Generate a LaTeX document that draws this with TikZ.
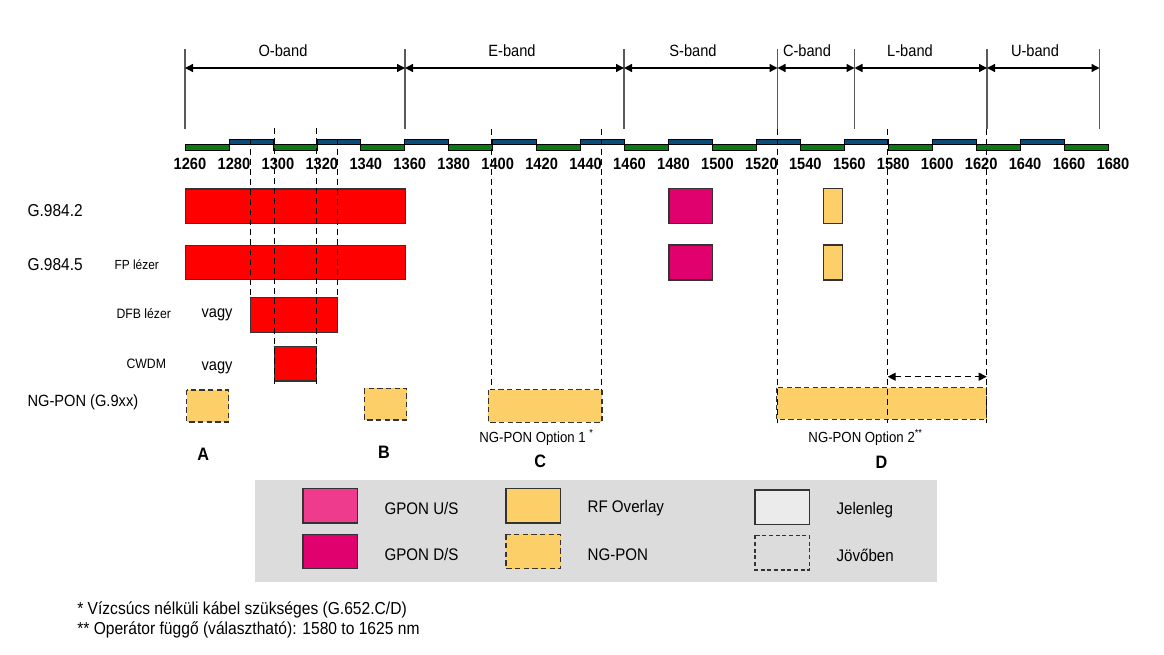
\documentclass[tikz,border=0pt]{standalone}
\usepackage{fontspec}
\setmainfont{Liberation Sans}[FakeStretch=0.9]
\usetikzlibrary{arrows.meta}
\definecolor{cred}{HTML}{FF0000}
\definecolor{cmag}{HTML}{E0006E}
\definecolor{cpink}{HTML}{EF3B8E}
\definecolor{corange}{HTML}{FCCF68}
\definecolor{cgreen}{HTML}{0B7A12}
\definecolor{cblue}{HTML}{0C4C78}
\definecolor{cpanel}{HTML}{DCDCDC}
\definecolor{cgrey}{HTML}{5A5A5A}
\tikzset{
  every picture/.style={x=0.75pt, y=-0.75pt, line width=0.9pt},
  now/.style={draw=black!80, fill=#1, line width=0.8pt},
  later/.style={draw=black!80, fill=#1, line width=0.9pt, dash pattern=on 4pt off 2.5pt},
  guide/.style={black, line width=0.9pt, dash pattern=on 4.5pt off 3pt},
  bandline/.style={cgrey, line width=0.9pt},
  span/.style={{Triangle[length=6pt,width=6pt]}-{Triangle[length=6pt,width=6pt]}, line width=1pt},
  lbl/.style={font=\fontsize{12.2}{14}\selectfont, inner sep=0pt},
  sublbl/.style={font=\fontsize{10.2}{12}\selectfont, inner sep=0pt},
  ticklbl/.style={font=\bfseries\fontsize{12.2}{14}\selectfont, inner sep=0pt},
  letter/.style={font=\bfseries\fontsize{13.5}{15}\selectfont, inner sep=0pt},
}

\begin{document}
\begin{tikzpicture}[
  cell/.style={draw=black, fill=#1, line width=0.5pt},
  note/.style={font=\fontsize{13}{15}\selectfont, inner sep=0pt, anchor=west}]
  \useasboundingbox (0,0) rectangle (1164,655);
  % legend: \legentry{name}{swatch style}{x}{y}{text}
  \newcommand{\legentry}[5]{%
    \path[#2] (#3,#4) rectangle ++(54.5,34.5);
    \node[lbl, anchor=west, font=\fontsize{12.6}{14}\selectfont] (#1) at (#3+81,#4+20) {#5};}
  \fill[cpanel] (255,480) rectangle (937,582);
  \legentry{us}{now=cpink}{303}{488.5}{GPON U/S}
  \legentry{ds}{now=cmag}{303}{534.3}{GPON D/S}
  \legentry{rf}{now=corange}{506}{488.5}{RF Overlay}
  \legentry{ng}{later=corange}{506}{534.3}{NG-PON}
  \legentry{jel}{now=white!92!black}{755}{490}{Jelenleg}
  \legentry{jov}{later=cpanel, dash pattern=on 3pt off 2pt}{755}{535.5}{Jövőben}

  % wavelength strip and grid labels
  \foreach \k in {0,...,20} {
    \pgfmathsetmacro\xa{185+43.952*\k}
    \pgfmathsetmacro\xb{185+43.952*(\k+1)}
    \ifodd\k
      \draw[cell=cblue] (\xa,139) rectangle (\xb,144.5);
    \else
      \draw[cell=cgreen] (\xa,144.5) rectangle (\xb,150);
    \fi
  }
  \foreach \k in {0,...,21} {
    \pgfmathtruncatemacro\wl{1260+20*\k}
    \node[ticklbl] (nm\wl) at ({190+43.952*\k},164) {\wl};
  }

  % bands
  \foreach \x [count=\i] in {185,405,624,777.5,854.5,987,1099.5} {
    \coordinate (b\i) at (\x,68);
    \draw[bandline] (\x,49) -- (\x,129);
  }
  \foreach \i/\j in {1/2,2/3,3/4,4/5,5/6,6/7} \draw[span] (b\i) -- (b\j);
  \foreach \x/\t in {283/O,512/E,693/S,807/C,910/L,1035/U}
    \node[lbl] (band\t) at (\x,51) {\t-band};

  % allocations
  \path[now=cred] (185.5,189) rectangle (405.5,223.3);
  \path[now=cred] (185.5,245.5) rectangle (405.5,279.5);
  \path[now=cred] (250.5,297.3) rectangle (337.3,332.3);
  \path[now=cred] (274.3,346.7) rectangle (316.7,381);
  \path[now=cmag] (669,188.3) rectangle (712.7,223.3);
  \path[now=cmag] (669,245) rectangle (712.7,280);
  \path[now=corange] (823.3,188.3) rectangle (842.3,223.3);
  \path[now=corange] (823.3,245) rectangle (842.3,280);
  \path[later=corange] (186.7,390) rectangle (228.7,422);
  \path[later=corange] (364.3,388.3) rectangle (406.7,420);
  \path[later=corange] (488.4,389.7) rectangle (601.9,422.5);
  \path[later=corange] (776.7,387.7) rectangle (986.7,419.3);

  % guide lines
  \foreach \x/\ya/\yb in {250.5/139/297.3, 337.3/139/297.3, 274.3/128/385, 316.7/128/385,
      491.7/129/389.7, 601.2/129/389.7, 777.3/129/423, 887.7/129/423, 986.7/129/423}
    \draw[guide] (\x,\ya) -- (\x,\yb);
  \coordinate (l1) at (887.7,376.7);
  \coordinate (l2) at (986.7,376.7);
  \draw[guide, span] (l1) -- (l2);

  % row labels
  \node[lbl, anchor=west, font=\fontsize{12.9}{15}\selectfont] (g2) at (27,210.7) {G.984.2};
  \node[lbl, anchor=west, font=\fontsize{12.9}{15}\selectfont] (g5) at (27,265) {G.984.5};
  \node[sublbl, anchor=west, font=\fontsize{9.9}{12}\selectfont] (fp) at (114,265) {FP lézer};
  \node[sublbl, anchor=west] (dfb) at (116,314) {DFB lézer};
  \node[lbl, anchor=west] (or1) at (201,315) {vagy};
  \node[sublbl, anchor=west] (cwdm) at (126,364.3) {CWDM};
  \node[lbl, anchor=west] (or2) at (201,368.3) {vagy};
  \node[lbl, anchor=west] (ngpon) at (27,402.7) {NG-PON (G.9xx)};
  \node[sublbl, font=\fontsize{11}{13}\selectfont] (opt1) at (536.5,437.5) {NG-PON Option 1 \textsuperscript{*}};
  \node[sublbl, font=\fontsize{11}{13}\selectfont] (opt2) at (865.6,437.5) {NG-PON Option 2\textsuperscript{**}};
  \node[letter] (A) at (203.3,454) {A};
  \node[letter] (B) at (384,452.7) {B};
  \node[letter] (C) at (540.3,461.7) {C};
  \node[letter] (D) at (881.4,462) {D};

  % footnotes
  \node[note] (fn1) at (76.7,610) {* Vízcsúcs nélküli kábel szükséges (G.652.C/D)};
  \node[note] (fn2) at (76.7,630) {** Operátor függő (választható): 1580 to 1625 nm};
\end{tikzpicture}
\end{document}
